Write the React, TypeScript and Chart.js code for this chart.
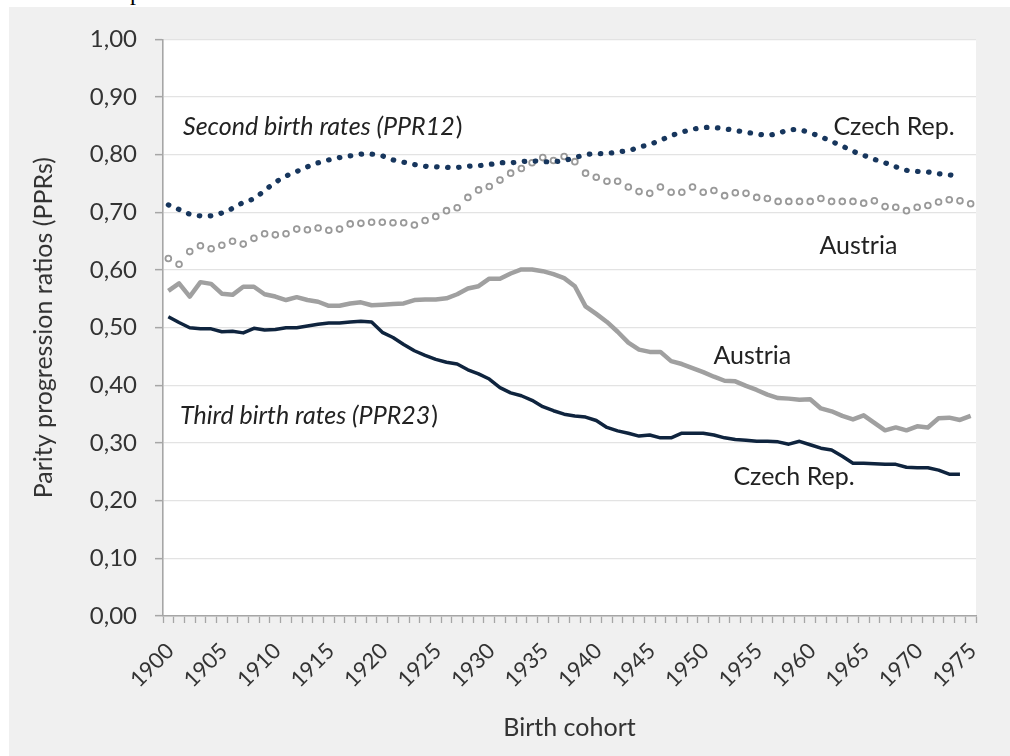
import React, { useEffect, useRef } from 'react';
import { Chart, registerables } from 'chart.js';

Chart.register(...registerables);

const years = [
  '1900', '1901', '1902', '1903', '1904', '1905', '1906', '1907', '1908', '1909',
  '1910', '1911', '1912', '1913', '1914', '1915', '1916', '1917', '1918', '1919',
  '1920', '1921', '1922', '1923', '1924', '1925', '1926', '1927', '1928', '1929',
  '1930', '1931', '1932', '1933', '1934', '1935', '1936', '1937', '1938', '1939',
  '1940', '1941', '1942', '1943', '1944', '1945', '1946', '1947', '1948', '1949',
  '1950', '1951', '1952', '1953', '1954', '1955', '1956', '1957', '1958', '1959',
  '1960', '1961', '1962', '1963', '1964', '1965', '1966', '1967', '1968', '1969',
  '1970', '1971', '1972', '1973', '1974', '1975',
];

const xTickLabels = ['1900', '1905', '1910', '1915', '1920', '1925', '1930', '1935', '1940', '1945', '1950', '1955', '1960', '1965', '1970', '1975'];

// Second birth rates (PPR12), Czech Republic (1900-1974)
const czechPPR12 = [
  0.713, 0.705, 0.697, 0.694, 0.694, 0.699, 0.707, 0.717, 0.724, 0.738,
  0.752, 0.763, 0.771, 0.779, 0.786, 0.791, 0.795, 0.798, 0.801, 0.801,
  0.798, 0.791, 0.787, 0.783, 0.780, 0.779, 0.778, 0.778, 0.780, 0.781,
  0.783, 0.786, 0.786, 0.788, 0.789, 0.788, 0.788, 0.790, 0.795, 0.800,
  0.802, 0.802, 0.805, 0.807, 0.813, 0.818, 0.825, 0.833, 0.839, 0.844,
  0.847, 0.847, 0.845, 0.842, 0.839, 0.836, 0.834, 0.837, 0.843, 0.843,
  0.838, 0.831, 0.823, 0.815, 0.806, 0.799, 0.792, 0.786, 0.779, 0.773,
  0.771, 0.770, 0.767, 0.765, 0.763,
];

// Second birth rates (PPR12), Austria (1900-1975)
const austriaPPR12 = [
  0.620, 0.610, 0.632, 0.642, 0.637, 0.643, 0.650, 0.645, 0.655, 0.663,
  0.661, 0.663, 0.671, 0.670, 0.673, 0.669, 0.671, 0.680, 0.681, 0.683,
  0.683, 0.682, 0.682, 0.678, 0.686, 0.693, 0.703, 0.708, 0.726, 0.739,
  0.745, 0.756, 0.768, 0.776, 0.786, 0.795, 0.790, 0.797, 0.788, 0.768,
  0.761, 0.754, 0.754, 0.744, 0.736, 0.733, 0.744, 0.735, 0.735, 0.744,
  0.735, 0.738, 0.729, 0.734, 0.733, 0.726, 0.724, 0.719, 0.719, 0.719,
  0.719, 0.724, 0.719, 0.719, 0.719, 0.716, 0.720, 0.710, 0.709, 0.703,
  0.709, 0.712, 0.718, 0.722, 0.720, 0.715,
];

// Third birth rates (PPR23), Czech Republic (1900-1974)
const czechPPR23 = [
  0.519, 0.509, 0.500, 0.498, 0.498, 0.493, 0.494, 0.491, 0.499, 0.496,
  0.497, 0.500, 0.500, 0.503, 0.506, 0.508, 0.508, 0.510, 0.511, 0.510,
  0.492, 0.483, 0.471, 0.460, 0.452, 0.445, 0.440, 0.437, 0.427, 0.420,
  0.411, 0.396, 0.387, 0.382, 0.374, 0.363, 0.356, 0.350, 0.347, 0.345,
  0.339, 0.327, 0.321, 0.317, 0.312, 0.314, 0.309, 0.309, 0.317, 0.317,
  0.317, 0.314, 0.309, 0.306, 0.305, 0.303, 0.303, 0.302, 0.298, 0.303,
  0.297, 0.291, 0.288, 0.277, 0.265, 0.265, 0.264, 0.263, 0.263, 0.258,
  0.257, 0.257, 0.253, 0.246, 0.246,
];

// Third birth rates (PPR23), Austria (1900-1975)
const austriaPPR23 = [
  0.564, 0.577, 0.554, 0.579, 0.576, 0.559, 0.557, 0.571, 0.571, 0.558,
  0.554, 0.548, 0.553, 0.548, 0.545, 0.538, 0.538, 0.542, 0.544, 0.539,
  0.540, 0.541, 0.542, 0.548, 0.549, 0.549, 0.551, 0.558, 0.568, 0.572,
  0.585, 0.585, 0.594, 0.601, 0.601, 0.598, 0.593, 0.586, 0.572, 0.537,
  0.524, 0.510, 0.493, 0.474, 0.462, 0.458, 0.458, 0.442, 0.437, 0.430,
  0.423, 0.415, 0.408, 0.407, 0.399, 0.392, 0.384, 0.378, 0.377, 0.375,
  0.376, 0.360, 0.355, 0.347, 0.341, 0.348, 0.335, 0.322, 0.327, 0.322,
  0.329, 0.327, 0.343, 0.344, 0.340, 0.347,
];

// Text annotations placed in data space (year, value)
const annotations = [
  { text: 'Second birth rates (PPR12', tail: ')', italic: true, year: 1901.37, value: 0.8335 },
  { text: 'Czech Rep.', tail: '', italic: false, year: 1962.17, value: 0.8347 },
  { text: 'Austria', tail: '', italic: false, year: 1960.87, value: 0.6277 },
  { text: 'Austria', tail: '', italic: false, year: 1950.95, value: 0.4375 },
  { text: 'Third birth rates (PPR23', tail: ')', italic: true, year: 1901.09, value: 0.3337 },
  { text: 'Czech Rep.', tail: '', italic: false, year: 1952.82, value: 0.2265 },
];

const FONT = 'Lato';
const TEXT = '#333333';
const AXIS = '#a6a6a6';
const GRID = '#e3e3e3';

const plotBackground = {
  id: 'plotBackground',
  beforeDraw(chart: any) {
    const { ctx, chartArea } = chart;
    ctx.save();
    ctx.fillStyle = '#ffffff';
    ctx.fillRect(chartArea.left, chartArea.top, chartArea.right - chartArea.left, chartArea.bottom - chartArea.top);
    ctx.restore();
  },
};

const annotationPlugin = {
  id: 'textAnnotations',
  afterDatasetsDraw(chart: any) {
    const { ctx, scales } = chart;
    ctx.save();
    ctx.fillStyle = '#222222';
    ctx.textBaseline = 'alphabetic';
    ctx.textAlign = 'left';
    annotations.forEach((a) => {
      const x = scales.x.getPixelForValue(a.year - 1900);
      const y = scales.y.getPixelForValue(a.value);
      ctx.font = `${a.italic ? 'italic ' : ''}25px ${FONT}`;
      ctx.fillText(a.text, x, y);
      if (a.tail) {
        const w = ctx.measureText(a.text).width;
        ctx.font = `25px ${FONT}`;
        ctx.fillText(a.tail, x + w + 1, y);
      }
    });
    ctx.restore();
  },
};

function ChartView() {
  const ref = useRef<HTMLCanvasElement | null>(null);

  useEffect(() => {
    if (!ref.current) return;
    const chart = new Chart(ref.current, {
      type: 'line',
      data: {
        labels: years,
        datasets: [
          {
            label: 'Czech Rep. PPR12',
            data: czechPPR12,
            borderColor: '#17365d',
            backgroundColor: '#17365d',
            borderWidth: 5.2,
            borderDash: [0.5, 10.5],
            borderCapStyle: 'round',
            pointRadius: 0,
            tension: 0.35,
            fill: false,
          },
          {
            label: 'Austria PPR12',
            data: austriaPPR12,
            showLine: false,
            pointRadius: 2.9,
            pointBorderWidth: 1.8,
            pointBackgroundColor: '#ffffff',
            pointBorderColor: '#999999',
            borderColor: '#999999',
            fill: false,
          },
          {
            label: 'Czech Rep. PPR23',
            data: czechPPR23,
            borderColor: '#0f243e',
            borderWidth: 3.5,
            borderJoinStyle: 'round',
            pointRadius: 0,
            tension: 0,
            fill: false,
          },
          {
            label: 'Austria PPR23',
            data: austriaPPR23,
            borderColor: '#a0a0a0',
            borderWidth: 4.5,
            borderJoinStyle: 'round',
            pointRadius: 0,
            tension: 0,
            fill: false,
          },
        ],
      },
      options: {
        animation: false,
        responsive: false,
        maintainAspectRatio: false,
        devicePixelRatio: 1,
        layout: { padding: { left: 0, top: 30.7, right: 34, bottom: 0 } },
        plugins: {
          legend: { display: false },
          tooltip: { enabled: false },
        },
        scales: {
          x: {
            type: 'category',
            offset: true,
            grid: {
              display: true,
              drawOnChartArea: false,
              drawTicks: true,
              tickLength: 7,
              tickColor: AXIS,
              tickWidth: 1.3,
              offset: true,
            },
            border: { display: true, color: AXIS, width: 1.6 },
            ticks: {
              autoSkip: false,
              maxRotation: 45,
              minRotation: 45,
              padding: 15,
              labelOffset: 2,
              color: TEXT,
              font: { family: FONT, size: 22 },
              callback: (_v: any, i: number) => (xTickLabels.includes(years[i]) ? years[i] : ''),
            },
            title: {
              display: true,
              text: 'Birth cohort',
              color: TEXT,
              font: { family: FONT, size: 25 },
              padding: { top: 0, bottom: 13 },
            },
            afterFit: (s: any) => {
              s.height = 140;
            },
          },
          y: {
            min: 0,
            max: 1,
            grid: {
              color: GRID,
              lineWidth: 1.3,
              drawTicks: true,
              tickLength: 8,
              tickColor: AXIS,
              tickWidth: 1.5,
            },
            border: { display: true, color: AXIS, width: 1.6 },
            ticks: {
              stepSize: 0.1,
              padding: 18,
              color: TEXT,
              font: { family: FONT, size: 24 },
              callback: (v: any) => Number(v).toFixed(2).replace('.', ','),
            },
            title: {
              display: true,
              text: 'Parity progression ratios (PPRs)',
              color: TEXT,
              font: { family: FONT, size: 25 },
              padding: { top: 20, bottom: 0 },
            },
            afterFit: (s: any) => {
              s.width = 154;
            },
          },
        },
      },
      plugins: [plotBackground, annotationPlugin],
    } as any);
    return () => chart.destroy();
  }, []);

  return <canvas ref={ref} width={1001} height={749} style={{ display: 'block', width: 1001, height: 749 }} />;
}

export default function App() {
  return (
    <div style={{ position: 'absolute', left: 0, top: 0, width: 1010, height: 756, overflow: 'hidden', background: '#ffffff' }}>
      <div
        style={{
          position: 'absolute',
          left: 130,
          top: -20,
          fontFamily: '"Liberation Serif", serif',
          fontSize: 24,
          lineHeight: '24px',
          color: '#000',
        }}
      >
        p
      </div>
      <div style={{ position: 'absolute', left: 9, top: 7, width: 1001, height: 749, background: '#f0f0f0' }}>
        <ChartView />
      </div>
    </div>
  );
}
